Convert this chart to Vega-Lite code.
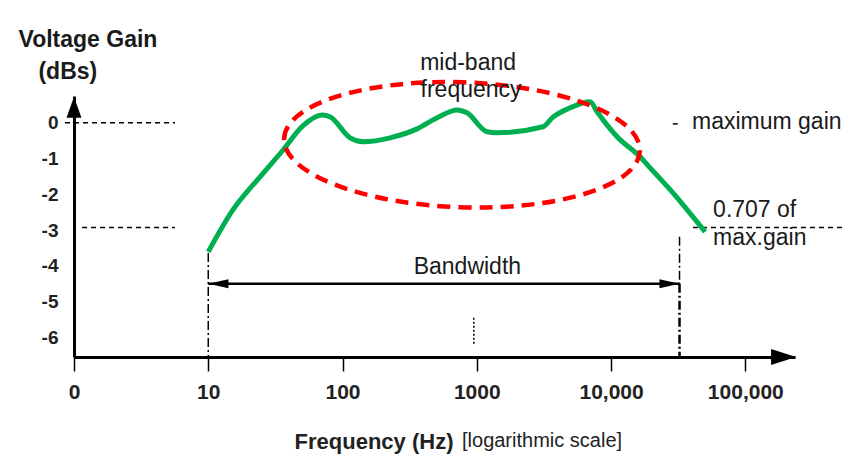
{
  "$schema": "https://vega.github.io/schema/vega-lite/v6.json",
  "autosize": "none",
  "width": 721,
  "height": 261,
  "padding": {"left": 74, "top": 96, "right": 62, "bottom": 99},
  "background": "white",
  "config": {"view": {"stroke": null}, "font": "Liberation Sans"},
  "datasets": {
    "curve": [
      {"f": 10, "db": -3.61}, {"f": 15.3, "db": -2.43}, {"f": 24.3, "db": -1.51},
      {"f": 36.1, "db": -0.76}, {"f": 50.8, "db": -0.08}, {"f": 70.3, "db": 0.22},
      {"f": 80.7, "db": 0.17}, {"f": 113.8, "db": -0.42}, {"f": 142.2, "db": -0.53},
      {"f": 226, "db": -0.42}, {"f": 359, "db": -0.17}, {"f": 506, "db": 0.14},
      {"f": 713, "db": 0.36}, {"f": 845, "db": 0.28}, {"f": 1191, "db": -0.25},
      {"f": 1416, "db": -0.28}, {"f": 3119, "db": -0.11}, {"f": 3639, "db": 0.14},
      {"f": 4955, "db": 0.42}, {"f": 6982, "db": 0.59}, {"f": 7870, "db": 0.31},
      {"f": 11092, "db": -0.39}, {"f": 16444, "db": -0.95}, {"f": 19543, "db": -1.26},
      {"f": 27542, "db": -1.87}, {"f": 50119, "db": -3.05}
    ],
    "dashed": [
      {"f": 0.857, "f2": 5.65, "db": 0},
      {"f": 1.148, "f2": 5.65, "db": -2.93},
      {"f": 28840, "f2": 31623, "db": -0.03},
      {"f": 40738, "f2": 537032, "db": -2.93}
    ],
    "vthin": [
      {"f": 10, "db": -3.64, "db2": -6.55},
      {"f": 32359, "db": -3.19, "db2": -4.5}
    ],
    "vthick": [{"f": 32359, "db": -4.5, "db2": -6.55}],
    "vdot": [{"f": 950, "db": -5.45, "db2": -6.2}],
    "band": [{"f": 10, "f2": 32359, "db": -4.5}],
    "bandLeft": [{"f": 11.9, "db": -4.5}],
    "bandRight": [{"f": 27227, "db": -4.5}],
    "ellipse": [{"f": 776, "db": -0.615}],
    "yArrow": [{"f": 1, "db": 0.434}],
    "xArrow": [{"f": 192752, "db": -6.55}],
    "textCenter": [
      {"f": 861, "db": 1.68, "label": "mid-band"},
      {"f": 906, "db": 0.92, "label": "frequency"},
      {"f": 851, "db": -4.04, "label": "Bandwidth"}
    ],
    "textLeft": [
      {"f": 40087, "db": 0.03, "label": "maximum gain"},
      {"f": 57544, "db": -2.43, "label": "0.707 of"},
      {"f": 57544, "db": -3.22, "label": "max.gain"}
    ],
    "yTitle": [
      {"f": 1.27, "db": 2.32, "label": "Voltage Gain"},
      {"f": 0.9, "db": 1.43, "label": "(dBs)"}
    ],
    "xSub": [{"f": 776, "db": -8.895, "label": "[logarithmic scale]"}]
  },
  "encoding": {
    "x": {
      "field": "f", "type": "quantitative",
      "scale": {"type": "log", "domain": [1, 234423], "nice": false},
      "axis": {
        "values": [1, 10, 100, 1000, 10000, 100000],
        "labelExpr": "datum.value == 1 ? '0' : datum.value >= 10000 ? format(datum.value, ',') : format(datum.value, 'd')",
        "grid": false, "ticks": true, "tickSize": 14, "tickWidth": 1.5, "tickColor": "black",
        "domainColor": "black", "domainWidth": 3,
        "labelFontSize": 21, "labelFontWeight": "bold", "labelColor": "#222", "labelPadding": 10,
        "labelFlush": false, "labelOverlap": false,
        "encode": {"labels": {"update": {"dx": {"signal": "datum.value >= 10000 ? -13 : 0"}}}},
        "title": "Frequency (Hz)", "titleFontSize": 22, "titleFontWeight": "bold", "titleColor": "#222",
        "titleAlign": "right", "titleX": 379, "titleY": 84, "titleBaseline": "middle"
      }
    },
    "y": {
      "field": "db", "type": "quantitative",
      "scale": {"domain": [-6.55, 0.75], "nice": false, "zero": false},
      "axis": {
        "values": [0, -1, -2, -3, -4, -5, -6],
        "labelExpr": "'' + datum.value",
        "grid": false, "ticks": false, "tickSize": 0,
        "domainColor": "black", "domainWidth": 3,
        "labelFontSize": 19, "labelFontWeight": "bold", "labelColor": "#222", "labelPadding": 16,
        "title": null
      }
    }
  },
  "layer": [
    {"data": {"name": "dashed"}, "mark": {"type": "rule", "color": "black", "strokeWidth": 1.5, "strokeDash": [5, 4]},
     "encoding": {"x2": {"field": "f2"}}},
    {"data": {"name": "vthin"}, "mark": {"type": "rule", "color": "black", "strokeWidth": 1.5, "strokeDash": [9, 3, 2, 3]},
     "encoding": {"y2": {"field": "db2"}}},
    {"data": {"name": "vthick"}, "mark": {"type": "rule", "color": "black", "strokeWidth": 2.5, "strokeDash": [9, 3, 2, 3]},
     "encoding": {"y2": {"field": "db2"}}},
    {"data": {"name": "vdot"}, "mark": {"type": "rule", "color": "black", "strokeWidth": 1.5, "strokeDash": [2, 2]},
     "encoding": {"y2": {"field": "db2"}}},
    {"data": {"name": "band"}, "mark": {"type": "rule", "color": "black", "strokeWidth": 2.5},
     "encoding": {"x2": {"field": "f2"}}},
    {"data": {"name": "bandLeft"}, "mark": {"type": "point", "filled": true, "color": "black", "opacity": 1,
      "shape": "M-1,0L1,-0.45L1,0.45Z", "size": 400}},
    {"data": {"name": "bandRight"}, "mark": {"type": "point", "filled": true, "color": "black", "opacity": 1,
      "shape": "M1,0L-1,-0.45L-1,0.45Z", "size": 400}},
    {"data": {"name": "curve"}, "mark": {"type": "line", "color": "#00b050", "strokeWidth": 5, "interpolate": "monotone", "strokeCap": "butt"}},
    {"data": {"name": "ellipse"}, "mark": {"type": "point", "filled": false, "color": "#ff0000", "opacity": 1,
      "strokeWidth": 4.5, "strokeDash": [13, 8], "angle": 2, "size": 126736,
      "shape": "M-1,0C-1,-0.1939,-0.5523,-0.351,0,-0.351C0.5523,-0.351,1,-0.1939,1,0C1,0.1939,0.5523,0.351,0,0.351C-0.5523,0.351,-1,0.1939,-1,0Z"}},
    {"data": {"name": "yArrow"}, "mark": {"type": "point", "filled": true, "color": "black", "opacity": 1,
      "shape": "M0,-1L0.71,1L-0.71,1Z", "size": 441}},
    {"data": {"name": "xArrow"}, "mark": {"type": "point", "filled": true, "color": "black", "opacity": 1,
      "shape": "M1,0L-1,-0.64L-1,0.64Z", "size": 625}},
    {"data": {"name": "textCenter"}, "mark": {"type": "text", "fontSize": 23, "color": "#1a1a1a", "align": "center", "baseline": "middle"},
     "encoding": {"text": {"field": "label"}}},
    {"data": {"name": "textLeft"}, "mark": {"type": "text", "fontSize": 23, "color": "#1a1a1a", "align": "left", "baseline": "middle"},
     "encoding": {"text": {"field": "label"}}},
    {"data": {"name": "yTitle"}, "mark": {"type": "text", "fontSize": 23, "fontWeight": "bold", "color": "#1a1a1a", "align": "center", "baseline": "middle"},
     "encoding": {"text": {"field": "label"}}},
    {"data": {"name": "xSub"}, "mark": {"type": "text", "fontSize": 20, "color": "#222", "align": "left", "baseline": "middle"},
     "encoding": {"text": {"field": "label"}}}
  ]
}
